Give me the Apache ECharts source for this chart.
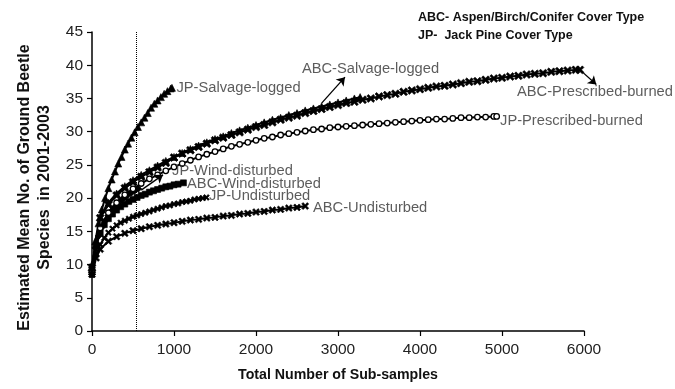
<!DOCTYPE html>
<html lang="en">
<head>
  <meta charset="UTF-8">
  <script src="https://cdn.jsdelivr.net/npm/echarts@6/dist/echarts.min.js"></script>
</head>
<body style="margin:0">
  <div id="chart" style="width:675px;height:389px;"></div>
  <script type="text/javascript">
    // [sub-samples, estimated species]
    var jpSalvage = [[0,9.0],[40,13.5],[80,16.2],[120,18.3],[160,20.0],[200,21.5],[240,22.8],[280,24.0],[320,25.2],[360,26.2],[400,27.3],[440,28.2],[480,29.1],[520,29.9],[560,30.7],[600,31.4],[640,32.1],[680,32.8],[720,33.6],[760,34.2],[800,34.7],[840,35.2],[880,35.7],[920,36.1],[960,36.5],[975,36.6]];
    var abcSalvage = [[0,10.0],[100,17.2],[200,19.3],[300,20.7],[400,21.8],[500,22.7],[600,23.5],[700,24.2],[800,24.9],[900,25.6],[1000,26.2],[1100,26.8],[1200,27.4],[1300,27.9],[1400,28.4],[1500,28.9],[1600,29.3],[1700,29.8],[1800,30.2],[1900,30.6],[2000,31.0],[2100,31.4],[2200,31.8],[2300,32.1],[2400,32.5],[2500,32.8],[2600,33.2],[2700,33.5],[2800,33.8],[2900,34.1],[3000,34.4],[3100,34.7],[3200,35.0],[3270,35.2]];
    var abcBurned = [[0,9.5],[100,17.0],[200,19.0],[300,20.4],[400,21.5],[500,22.4],[600,23.2],[700,23.9],[800,24.6],[900,25.3],[1000,26.1],[1100,26.7],[1200,27.2],[1300,27.7],[1400,28.2],[1500,28.7],[1600,29.1],[1700,29.5],[1800,29.9],[1900,30.3],[2000,30.7],[2100,31.0],[2200,31.4],[2300,31.8],[2400,32.1],[2500,32.4],[2600,32.8],[2700,33.1],[2800,33.4],[2900,33.7],[3000,34.0],[3100,34.3],[3200,34.5],[3300,34.8],[3400,35.0],[3500,35.3],[3600,35.5],[3700,35.7],[3800,36.0],[3900,36.2],[4000,36.4],[4100,36.6],[4200,36.8],[4300,36.9],[4400,37.1],[4500,37.3],[4600,37.5],[4700,37.6],[4800,37.8],[4900,38.0],[5000,38.1],[5100,38.3],[5200,38.4],[5300,38.6],[5400,38.7],[5500,38.8],[5600,39.0],[5700,39.1],[5800,39.2],[5900,39.3],[5950,39.3]];
    var jpBurned = [[0,9.0],[100,15.5],[200,17.8],[300,19.3],[400,20.5],[500,21.4],[600,22.2],[700,22.9],[800,23.5],[900,24.1],[1000,24.7],[1100,25.2],[1200,25.7],[1300,26.2],[1400,26.6],[1500,27.0],[1600,27.4],[1700,27.8],[1800,28.1],[1900,28.4],[2000,28.7],[2100,29.0],[2200,29.2],[2300,29.5],[2400,29.7],[2500,29.9],[2600,30.1],[2700,30.3],[2800,30.4],[2900,30.6],[3000,30.7],[3100,30.8],[3200,30.9],[3300,31.0],[3400,31.1],[3500,31.2],[3600,31.3],[3700,31.4],[3800,31.5],[3900,31.6],[4000,31.7],[4100,31.8],[4200,31.9],[4300,31.9],[4400,32.0],[4500,32.1],[4600,32.1],[4700,32.2],[4800,32.2],[4900,32.3],[4935,32.3]];
    var jpWind = [[0,8.5],[40,12.5],[80,14.3],[120,15.6],[160,16.6],[200,17.4],[240,18.1],[280,18.7],[320,19.2],[360,19.7],[400,20.1],[440,20.5],[480,20.8],[520,21.1],[565,21.4]];
    var abcWind = [[0,9.0],[50,12.8],[100,14.8],[150,16.0],[200,16.9],[250,17.6],[300,18.2],[350,18.7],[400,19.1],[450,19.5],[500,19.8],[550,20.1],[600,20.4],[650,20.6],[700,20.9],[750,21.1],[800,21.3],[850,21.5],[900,21.7],[950,21.8],[1000,22.0],[1050,22.1],[1115,22.3]];
    var jpUndisturbed = [[0,8.5],[50,11.5],[100,13.0],[150,14.0],[200,14.8],[250,15.4],[300,15.9],[350,16.3],[400,16.6],[450,16.9],[500,17.2],[550,17.4],[600,17.6],[650,17.8],[700,18.0],[750,18.2],[800,18.4],[850,18.6],[900,18.8],[950,18.9],[1000,19.1],[1050,19.2],[1100,19.4],[1150,19.5],[1200,19.6],[1250,19.8],[1300,19.9],[1350,20.0],[1395,20.1]];
    var abcUndisturbed = [[0,8.5],[50,11.0],[100,12.3],[200,13.5],[300,14.2],[400,14.7],[500,15.1],[600,15.4],[700,15.7],[800,15.9],[900,16.1],[1000,16.3],[1100,16.5],[1200,16.7],[1300,16.8],[1400,17.0],[1500,17.1],[1600,17.3],[1700,17.4],[1800,17.6],[1900,17.7],[2000,17.9],[2100,18.0],[2200,18.2],[2300,18.3],[2400,18.5],[2500,18.6],[2600,18.8]];
    var cutoffSamples = 535;

    // text annotations placed in data coordinates
    var curveLabels = [
      { name: 'JP-Salvage-logged', value: [1030, 36.6] },
      { name: 'ABC-Salvage-logged', value: [2560, 39.5] },
      { name: 'ABC-Prescribed-burned', value: [5183, 36.0] },
      { name: 'JP-Prescribed-burned', value: [4976, 31.6] },
      { name: 'JP-Wind-disturbed', value: [976, 24.1] },
      { name: 'ABC-Wind-disturbed', value: [1159, 22.1] },
      { name: 'JP-Undisturbed', value: [1427, 20.3] },
      { name: 'ABC-Undisturbed', value: [2695, 18.5] }
    ];
    var arrows = [
      [[2801, 34.3], [3085, 38.2]],
      [[5951, 39.3], [6150, 37.1]],
      [[600, 21.2], [866, 23.5]]
    ];

    var xMark = 'path://M0,2L2,0L5,3L8,0L10,2L7,5L10,8L8,10L5,7L2,10L0,8L3,5Z';
    var font = '"Liberation Sans", Arial, sans-serif';

    function curve(name, data, symbol, size, hollow) {
      return {
        name: name,
        type: 'line',
        data: data,
        symbol: symbol,
        symbolSize: size,
        showAllSymbol: true,
        lineStyle: { color: '#000', width: 2 },
        itemStyle: hollow
          ? { color: '#fff', borderColor: '#000', borderWidth: 1.3 }
          : { color: '#000', borderColor: '#000', borderWidth: 0.6 },
        animation: false,
        z: 3
      };
    }

    var chart = echarts.init(document.getElementById('chart'));

    var option = {
      backgroundColor: '#fff',
      animation: false,
      grid: { left: 92, right: 91, top: 32, bottom: 58 },
      graphic: [
        { type: 'text', left: 418, top: 11, style: { text: 'ABC- Aspen/Birch/Conifer Cover Type', font: 'bold 12.5px ' + font, fill: '#111' } },
        { type: 'text', left: 418, top: 29, style: { text: 'JP-  Jack Pine Cover Type', font: 'bold 12.5px ' + font, fill: '#111' } }
      ],
      xAxis: {
        type: 'value',
        min: 0,
        max: 6000,
        interval: 1000,
        name: 'Total Number of Sub-samples',
        nameLocation: 'middle',
        nameGap: 37,
        nameTextStyle: { fontFamily: font, fontSize: 14.2, fontWeight: 'bold', color: '#111' },
        axisLine: { lineStyle: { color: '#000', width: 1.5 } },
        axisTick: { length: 5, lineStyle: { color: '#000', width: 1.2 } },
        axisLabel: { fontFamily: font, fontSize: 15.5, color: '#222', margin: 11, formatter: function (v) { return String(v); } },
        splitLine: { show: false }
      },
      yAxis: {
        type: 'value',
        min: 0,
        max: 45,
        interval: 5,
        name: 'Estimated Mean No. of Ground Beetle\nSpecies  in 2001-2003',
        nameLocation: 'middle',
        nameGap: 36,
        nameTextStyle: { fontFamily: font, fontSize: 16, fontWeight: 'bold', color: '#111', lineHeight: 20, padding: [0, 12, 0, 0] },
        axisLine: { show: true, lineStyle: { color: '#000', width: 1.5 } },
        axisTick: { show: true, length: 5, lineStyle: { color: '#000', width: 1.2 } },
        axisLabel: { fontFamily: font, fontSize: 15.5, color: '#222', margin: 9 },
        splitLine: { show: false }
      },
      series: [
        curve('ABC-Undisturbed', abcUndisturbed, xMark, 7),
        curve('JP-Undisturbed', jpUndisturbed, xMark, 6),
        curve('ABC-Wind-disturbed', abcWind, 'rect', 6),
        curve('JP-Wind-disturbed', jpWind, 'diamond', 7),
        curve('JP-Prescribed-burned', jpBurned, 'circle', 5.5, true),
        curve('ABC-Prescribed-burned', abcBurned, xMark, 8),
        curve('ABC-Salvage-logged', abcSalvage, 'triangle', 7),
        curve('JP-Salvage-logged', jpSalvage, 'triangle', 7),
        {
          name: 'labels',
          type: 'scatter',
          data: curveLabels,
          symbolSize: 0,
          clip: false,
          silent: true,
          label: {
            show: true,
            position: 'right',
            distance: 0,
            formatter: '{b}',
            fontFamily: font,
            fontSize: 14.7,
            color: '#333'
          },
          z: 4
        },
        {
          name: 'arrows',
          type: 'lines',
          coordinateSystem: 'cartesian2d',
          clip: false,
          silent: true,
          symbol: ['none', 'arrow'],
          symbolSize: 8,
          lineStyle: { color: '#000', width: 1.3, opacity: 1 },
          data: arrows.map(function (a) { return { coords: a }; }),
          z: 4
        },
        {
          name: 'cutoff',
          type: 'line',
          data: [],
          markLine: {
            silent: true,
            symbol: 'none',
            label: { show: false },
            lineStyle: { color: '#000', width: 1, type: 'dotted' },
            data: [{ xAxis: cutoffSamples }]
          }
        }
      ]
    };

    chart.setOption(option);
  </script>
</body>
</html>
